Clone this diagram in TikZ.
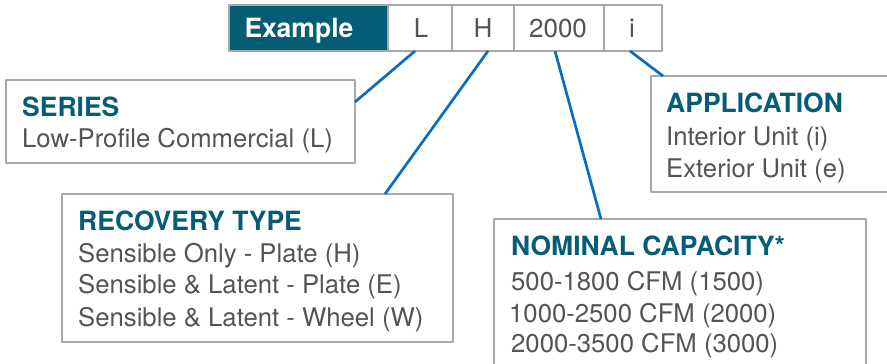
\documentclass[tikz,border=0pt]{standalone}
\usepackage{fontspec}
\setmainfont{TeX Gyre Heros}
\usetikzlibrary{calc}
\definecolor{qqffzz}{rgb}{0.02,0.36,0.46}
\definecolor{qqbbcc}{rgb}{0.04,0.43,0.74}
\definecolor{ttttee}{rgb}{0.33,0.33,0.33}
\definecolor{aaaaaa}{rgb}{0.66,0.66,0.66}

\begin{document}
\begin{tikzpicture}[line cap=round,line join=round,x=1pt,y=-1pt,
  box/.style={draw=aaaaaa,line width=1.5pt,inner sep=0pt,outer sep=0pt,anchor=north west},
  cell/.style={box,minimum height=46pt,text=ttttee,font=\fontsize{26}{30}\selectfont},
  head/.style={anchor=base west,inner sep=0pt,text=qqffzz,font=\fontsize{26.5}{32}\selectfont\bfseries},
  txt/.style={anchor=base west,inner sep=0pt,text=ttttee,font=\fontsize{25.7}{32}\selectfont},
  lead/.style={draw=qqbbcc,line width=2.7pt,line cap=butt}]
\useasboundingbox (0,0) rectangle (887,364);
\node [box,minimum width=349pt,minimum height=83pt] (series) at (6,80) {};
\node [box,minimum width=391pt,minimum height=148pt] (recovery) at (62,194) {};
\node [box,minimum width=244pt,minimum height=116pt] (application) at (651,76) {};
\node [box,minimum width=372pt,minimum height=161pt] (capacity) at (494,219) {};
\node [cell,fill=qqffzz,minimum width=159pt] (example) at (229,5) {};
\node [cell,minimum width=64pt] (Lcell) at (388,5) {};
\node [cell,minimum width=62pt] (Hcell) at (452,5) {};
\node [cell,minimum width=90pt] (Ncell) at (514,5) {};
\node [cell,minimum width=58pt] (icell) at (604,5) {};
\node [anchor=base,inner sep=0pt,text=white,font=\fontsize{26.5}{30}\selectfont\bfseries] (exampletext) at (299,37) {Example};
\node [anchor=base,inner sep=0pt,text=ttttee,font=\fontsize{26}{30}\selectfont] (Ltext) at (421,37) {L};
\node [anchor=base,inner sep=0pt,text=ttttee,font=\fontsize{26}{30}\selectfont] (Htext) at (483,37) {H};
\node [anchor=base,inner sep=0pt,text=ttttee,font=\fontsize{26}{30}\selectfont] (Ntext) at (558,37) {2000};
\node [anchor=base,inner sep=0pt,text=ttttee,font=\fontsize{26}{30}\selectfont] (itext) at (632,37) {i};
\draw [lead] ($(Lcell.south)+(-5,0)$) -- ($(series.north east)+(0,22)$);
\draw [lead] ($(Hcell.south)+(5,0)$) -- ($(recovery.north west)+(323,0)$);
\draw [lead] ($(Ncell.south)+(-4,0)$) -- ($(capacity.north west)+(107,0)$);
\draw [lead] ($(icell.south)+(-3,0)$) -- ($(application.north west)+(12,0)$);
\node [head] (serieshead) at (22,116) {SERIES};
\node [txt] (seriesa) at (22,147) {Low-Profile Commercial (L)};
\node [head] (recoveryhead) at (78,230) {RECOVERY TYPE};
\node [txt] (recoverya) at (78,262) {Sensible Only - Plate (H)};
\node [txt] (recoveryb) at (78,293) {Sensible \& Latent - Plate (E)};
\node [txt] (recoveryc) at (78,326) {Sensible \& Latent - Wheel (W)};
\node [head] (applicationhead) at (666,112) {APPLICATION};
\node [txt] (applicationa) at (666,145) {Interior Unit (i)};
\node [txt] (applicationb) at (666,177) {Exterior Unit (e)};
\node [head] (capacityhead) at (511,255) {NOMINAL CAPACITY*};
\node [txt] (capacitya) at (511,290) {500-1800 CFM (1500)};
\node [txt] (capacityb) at (509,322) {1000-2500 CFM (2000)};
\node [txt] (capacityc) at (511,352) {2000-3500 CFM (3000)};
\end{tikzpicture}
\end{document}
